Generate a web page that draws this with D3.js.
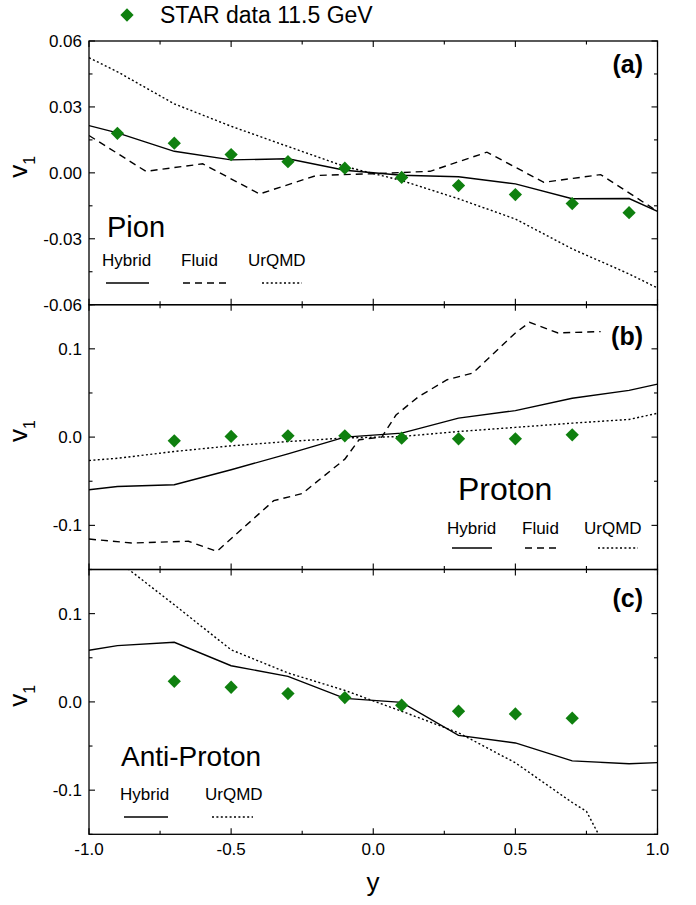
<!DOCTYPE html>
<html>
<head>
<meta charset="utf-8">
<script src="https://cdn.jsdelivr.net/npm/d3@7"></script>
<style>
  html, body { margin: 0; padding: 0; background: #fff; }
  svg { display: block; font-family: "Liberation Sans", Arial, sans-serif; }
</style>
</head>
<body>
<svg id="chart" width="696" height="905"></svg>
<script>
// ---------------- DATA ----------------
const xTickValues = [-1.0, -0.5, 0.0, 0.5, 1.0];
const xTickLabels = ["-1.0", "-0.5", "0.0", "0.5", "1.0"];

const yTicksPion = [0.06, 0.03, 0.00, -0.03, -0.06];
const yTickLabelsPion = ["0.06", "0.03", "0.00", "-0.03", "-0.06"];
const yTicksProton = [0.1, 0.0, -0.1];
const yTickLabelsProton = ["0.1", "0.0", "-0.1"];

const starRapidity = [-0.9, -0.7, -0.5, -0.3, -0.1, 0.1, 0.3, 0.5, 0.7, 0.9];
const starPion = [0.018, 0.0135, 0.0083, 0.0051, 0.0021, -0.0021, -0.0058, -0.0099, -0.014, -0.0181];

const pionHybridY = [-1.0, -0.9, -0.7, -0.5, -0.3, -0.1, 0.1, 0.3, 0.5, 0.7, 0.9, 1.0];
const pionHybrid  = [0.0215, 0.0182, 0.0098, 0.0059, 0.0064, 0.0012, -0.0011, -0.0018, -0.005, -0.0118, -0.0117, -0.0175];

const pionFluidY = [-1.0, -0.8, -0.6, -0.4, -0.2, 0.0, 0.2, 0.4, 0.6, 0.8, 1.0];
const pionFluid  = [0.017, 0.0007, 0.0041, -0.0096, -0.0012, -0.0004, 0.0007, 0.0094, -0.0043, -0.0008, -0.0175];

const pionUrqmdY = [-1.0, -0.9, -0.7, -0.5, -0.3, -0.1, 0.1, 0.3, 0.5, 0.7, 0.9, 1.0];
const pionUrqmd  = [0.0524, 0.046, 0.0314, 0.0212, 0.012, 0.0029, -0.0035, -0.0118, -0.021, -0.0346, -0.046, -0.0524];

const starProtonY = [-0.7, -0.5, -0.3, -0.1, 0.1, 0.3, 0.5, 0.7];
const starProton  = [-0.0042, 0.0007, 0.0015, 0.0015, -0.0012, -0.002, -0.002, 0.0026];

const protonHybridY = [-1.0, -0.9, -0.7, -0.5, -0.3, -0.1, 0.1, 0.3, 0.5, 0.7, 0.9, 1.0];
const protonHybrid  = [-0.0597, -0.056, -0.054, -0.037, -0.019, 0.0, 0.0045, 0.0215, 0.030, 0.044, 0.053, 0.060];

const protonFluidY = [-1.0, -0.85, -0.65, -0.55, -0.35, -0.25, -0.1, -0.05, 0.03, 0.08, 0.16, 0.26, 0.35, 0.5, 0.55, 0.65, 0.8];
const protonFluid  = [-0.1155, -0.12, -0.118, -0.1295, -0.072, -0.064, -0.025, -0.003, 0.0, 0.025, 0.046, 0.065, 0.0725, 0.118, 0.13, 0.118, 0.1195];

const protonUrqmdY = [-1.0, -0.9, -0.7, -0.5, -0.3, -0.1, 0.1, 0.3, 0.5, 0.7, 0.9, 1.0];
const protonUrqmd  = [-0.0265, -0.024, -0.0163, -0.0099, -0.005, -0.001, 0.0007, 0.0063, 0.011, 0.0158, 0.020, 0.027];

const starAntiY = [-0.7, -0.5, -0.3, -0.1, 0.1, 0.3, 0.5, 0.7];
const starAnti  = [0.0233, 0.0166, 0.0094, 0.0049, -0.0038, -0.0106, -0.0136, -0.0185];

const antiHybridY = [-1.0, -0.9, -0.7, -0.5, -0.3, -0.1, 0.1, 0.3, 0.5, 0.7, 0.9, 1.0];
const antiHybrid  = [0.0585, 0.0638, 0.0675, 0.041, 0.029, 0.004, -0.0005, -0.038, -0.0465, -0.0668, -0.070, -0.0688];

const antiUrqmdY = [-0.9, -0.7, -0.5, -0.3, -0.1, 0.1, 0.3, 0.5, 0.7, 0.75, 0.85];
const antiUrqmd  = [0.16, 0.110, 0.059, 0.0328, 0.013, -0.0106, -0.035, -0.069, -0.114, -0.124, -0.185];

// ---------------- LAYOUT ----------------
const svg = d3.select("#chart");
const X0 = 89, X1 = 657.5;
const x = d3.scaleLinear().domain([-1, 1]).range([X0, X1]);

const panels = [
  { top: 41,    bottom: 304.7, domain: [-0.06, 0.06], major: 0.03, minor: 0.015,
    ticks: yTicksPion, labels: yTickLabelsPion, tag: "(a)", tagY: 73 },
  { top: 304.7, bottom: 569.5, domain: [-0.15, 0.15], major: 0.1, minor: 0.05,
    ticks: yTicksProton, labels: yTickLabelsProton, tag: "(b)", tagY: 345 },
  { top: 569.5, bottom: 834.3, domain: [-0.15, 0.15], major: 0.1, minor: 0.05,
    ticks: yTicksProton, labels: yTickLabelsProton, tag: "(c)", tagY: 607 }
];
panels.forEach(p => { p.y = d3.scaleLinear().domain(p.domain).range([p.bottom, p.top]); });

const DASH = "7,5", DOT = "2,2.4";
const GREEN = "#0f800f";
const DIAMOND_SIZE = 88;
const lineGen = (p) => d3.line().x(d => x(d[0])).y(d => p.y(d[1]));
const zip = (a, b) => a.map((v, i) => [v, b[i]]);

function drawPanel(p, idx, series, star) {
  const g = svg.append("g");
  const clipId = "clip" + idx;
  svg.append("clipPath").attr("id", clipId).append("rect")
    .attr("x", X0).attr("y", p.top).attr("width", X1 - X0).attr("height", p.bottom - p.top);
  const plot = g.append("g").attr("clip-path", `url(#${clipId})`);

  series.forEach(s => {
    plot.append("path").datum(zip(s.xs, s.ys))
      .attr("d", lineGen(p))
      .attr("fill", "none").attr("stroke", "#000").attr("stroke-width", 1.4)
      .attr("stroke-dasharray", s.dash || null);
  });

  const diamond = d3.symbol().type(d3.symbolSquare).size(DIAMOND_SIZE);
  plot.selectAll("path.star").data(zip(star.xs, star.ys)).enter()
    .append("path").attr("class", "star")
    .attr("d", diamond())
    .attr("transform", d => `translate(${x(d[0])},${p.y(d[1])}) rotate(45)`)
    .attr("fill", GREEN);

  // frame
  g.append("rect").attr("x", X0).attr("y", p.top).attr("width", X1 - X0).attr("height", p.bottom - p.top)
    .attr("fill", "none").attr("stroke", "#000").attr("stroke-width", 1.3);

  // x ticks (inside, top and bottom)
  const xt = d3.range(-1, 1.0001, 0.25);
  xt.forEach(v => {
    const isMajor = Math.abs(v * 2 - Math.round(v * 2)) < 1e-6;
    const len = isMajor ? 6 : 3.5;
    g.append("line").attr("x1", x(v)).attr("x2", x(v)).attr("y1", p.top).attr("y2", p.top + len)
      .attr("stroke", "#000").attr("stroke-width", 1.1);
    g.append("line").attr("x1", x(v)).attr("x2", x(v)).attr("y1", p.bottom).attr("y2", p.bottom - len)
      .attr("stroke", "#000").attr("stroke-width", 1.1);
  });
  // y ticks (inside, left and right)
  const n = Math.round((p.domain[1] - p.domain[0]) / p.minor);
  for (let i = 0; i <= n; i++) {
    const v = p.domain[0] + i * p.minor;
    const isMajor = Math.abs(v / p.major - Math.round(v / p.major)) < 1e-6;
    const len = isMajor ? 6 : 3.5;
    g.append("line").attr("x1", X0).attr("x2", X0 + len).attr("y1", p.y(v)).attr("y2", p.y(v))
      .attr("stroke", "#000").attr("stroke-width", 1.1);
    g.append("line").attr("x1", X1).attr("x2", X1 - len).attr("y1", p.y(v)).attr("y2", p.y(v))
      .attr("stroke", "#000").attr("stroke-width", 1.1);
  }
  // y tick labels
  p.ticks.forEach((v, i) => {
    g.append("text").attr("x", 82).attr("y", p.y(v) + 6)
      .attr("text-anchor", "end").attr("font-size", 17).attr("fill", "#000")
      .text(p.labels[i]);
  });
  // y axis title v1
  const cy = (p.top + p.bottom) / 2 - 6;
  const t = g.append("text").attr("transform", `translate(27,${cy}) rotate(-90)`)
    .attr("text-anchor", "middle").attr("font-size", 26).attr("fill", "#000");
  t.append("tspan").text("v");
  t.append("tspan").attr("font-size", 16).attr("dy", 8).text("1");
  // panel tag
  g.append("text").attr("x", 643).attr("y", p.tagY).attr("text-anchor", "end")
    .attr("font-size", 25).attr("font-weight", "bold").attr("fill", "#000").text(p.tag);
  return g;
}

function legend(g, items, lineY, textY) {
  items.forEach(it => {
    g.append("text").attr("x", it.tx).attr("y", textY).attr("font-size", 17).attr("fill", "#000").text(it.label);
    g.append("line").attr("x1", it.l0).attr("x2", it.l1).attr("y1", lineY).attr("y2", lineY)
      .attr("stroke", "#000").attr("stroke-width", 1.4).attr("stroke-dasharray", it.dash || null);
  });
}

// Panel (a) Pion
const gA = drawPanel(panels[0], 0, [
  { xs: pionHybridY, ys: pionHybrid },
  { xs: pionFluidY, ys: pionFluid, dash: DASH },
  { xs: pionUrqmdY, ys: pionUrqmd, dash: DOT }
], { xs: starRapidity, ys: starPion });
gA.append("text").attr("x", 107).attr("y", 237).attr("font-size", 29).text("Pion");
legend(gA, [
  { label: "Hybrid", tx: 102, l0: 106, l1: 149 },
  { label: "Fluid", tx: 181, l0: 183, l1: 228, dash: DASH },
  { label: "UrQMD", tx: 248, l0: 262, l1: 302, dash: DOT }
], 283, 266);

// Panel (b) Proton
const gB = drawPanel(panels[1], 1, [
  { xs: protonHybridY, ys: protonHybrid },
  { xs: protonFluidY, ys: protonFluid, dash: DASH },
  { xs: protonUrqmdY, ys: protonUrqmd, dash: DOT }
], { xs: starProtonY, ys: starProton });
gB.append("text").attr("x", 458).attr("y", 500).attr("font-size", 32).text("Proton");
legend(gB, [
  { label: "Hybrid", tx: 447, l0: 452, l1: 492 },
  { label: "Fluid", tx: 522, l0: 525, l1: 559, dash: DASH },
  { label: "UrQMD", tx: 584, l0: 598, l1: 638, dash: DOT }
], 548, 534);

// Panel (c) Anti-Proton
const gC = drawPanel(panels[2], 2, [
  { xs: antiHybridY, ys: antiHybrid },
  { xs: antiUrqmdY, ys: antiUrqmd, dash: DOT }
], { xs: starAntiY, ys: starAnti });
gC.append("text").attr("x", 121).attr("y", 766).attr("font-size", 28).text("Anti-Proton");
legend(gC, [
  { label: "Hybrid", tx: 120, l0: 124, l1: 168 },
  { label: "UrQMD", tx: 205, l0: 212, l1: 253, dash: DOT }
], 817, 800);

// x tick labels (bottom panel)
xTickValues.forEach((v, i) => {
  svg.append("text").attr("x", x(v)).attr("y", 855).attr("text-anchor", "middle")
    .attr("font-size", 17).attr("fill", "#000").text(xTickLabels[i]);
});
svg.append("text").attr("x", 373).attr("y", 891).attr("text-anchor", "middle")
  .attr("font-size", 26).attr("fill", "#000").text("y");

// top legend
svg.append("path").attr("d", d3.symbol().type(d3.symbolSquare).size(DIAMOND_SIZE)())
  .attr("transform", "translate(127,15) rotate(45)").attr("fill", GREEN);
svg.append("text").attr("x", 160).attr("y", 23).attr("font-size", 23).attr("fill", "#000")
  .text("STAR data 11.5 GeV");
</script>
</body>
</html>
